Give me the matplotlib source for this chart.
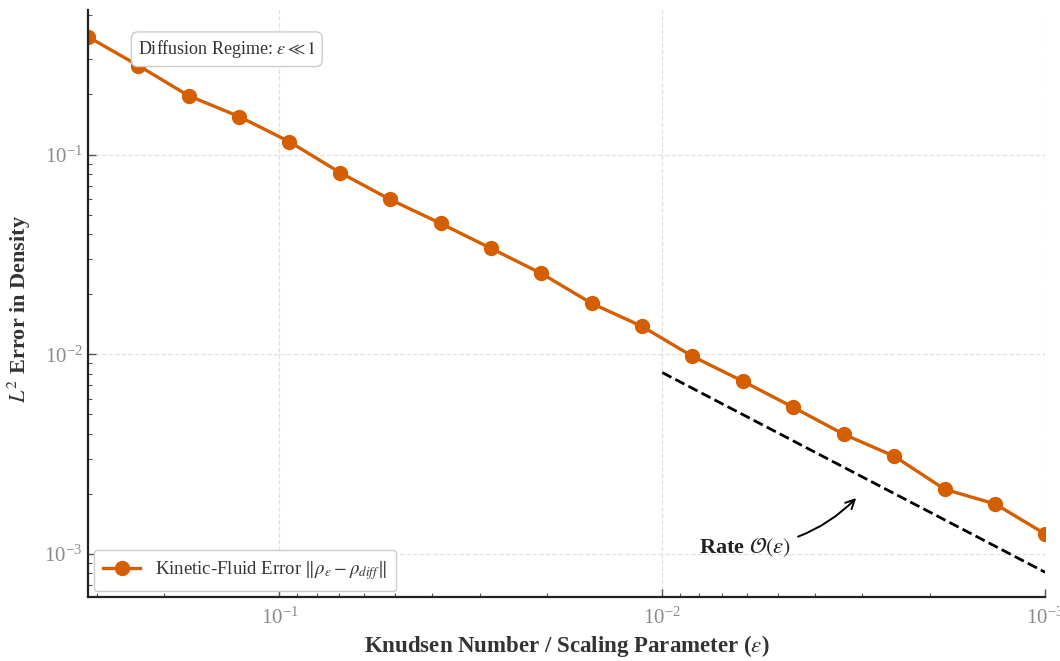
#!/usr/bin/env python3
"""
Asymptotic-preserving check: kinetic vs diffusion density error.
"""

import matplotlib

matplotlib.use("Agg")
import matplotlib.pyplot as plt
from matplotlib.ticker import LogLocator, NullFormatter

FIGSIZE = (10.6, 6.61)
SET_DPI = 100
ORANGE = "#D55E00"

# Knudsen numbers (log-spaced from ~0.32 down to 1e-3)
eps = [0.3162, 0.2336, 0.1726, 0.1274, 0.0942, 0.0695, 0.0514, 0.0379,
       0.0280, 0.0207, 0.0153, 0.0113, 0.00834, 0.00616, 0.00455,
       0.00336, 0.00248, 0.00183, 0.00135, 0.0010]
# L2 density error
err = [0.389, 0.279, 0.197, 0.155, 0.116, 0.0813, 0.0596, 0.0452,
       0.0339, 0.0254, 0.0180, 0.0138, 0.00977, 0.00733, 0.00543,
       0.00398, 0.00309, 0.00211, 0.00178, 0.00126]

# O(eps) reference slope
ref_eps = [0.01, 0.001]
ref_err = [0.0081, 0.00081]

plt.rcParams["font.family"] = ["Liberation Serif", "DejaVu Serif"]
plt.rcParams["mathtext.fontset"] = "stix"

fig = plt.figure(figsize=FIGSIZE, dpi=SET_DPI)
ax = fig.add_axes([0.083, 0.097, 0.903, 0.888])

ax.plot(eps, err, "-o", color=ORANGE, lw=2.4, ms=10,
        label=r"Kinetic-Fluid Error $\|\rho_\varepsilon - \rho_{diff}\|$")
ax.plot(ref_eps, ref_err, "--", color="black", lw=2)

ax.set_xscale("log")
ax.set_yscale("log")
# eps[0] > eps[-1], so the x axis runs from large to small
ax.set_xlim(eps[0], eps[-1])
ax.set_ylim(6.1e-4, 0.53)

ax.grid(True, which="major", ls="--", color="#e0e0e0", lw=0.9)
for side in ["top", "right"]:
    ax.spines[side].set_visible(False)
for side in ["left", "bottom"]:
    ax.spines[side].set_linewidth(1.6)
    ax.spines[side].set_color("#222222")

ax.xaxis.set_minor_locator(LogLocator(base=10, subs=range(2, 10), numticks=20))
ax.yaxis.set_minor_locator(LogLocator(base=10, subs=range(2, 10), numticks=20))
ax.xaxis.set_minor_formatter(NullFormatter())
ax.yaxis.set_minor_formatter(NullFormatter())
ax.tick_params(which="major", direction="in", length=6, width=1, labelsize=15,
               labelcolor="#8a8a8a", color="#555555", pad=8)
ax.tick_params(axis="y", which="major", pad=4)
ax.tick_params(which="minor", direction="in", length=3, width=0.8, color="#555555")

ax.set_xlabel(r"Knudsen Number / Scaling Parameter ($\varepsilon$)",
              fontsize=16.5, fontweight="bold", color="#333333")
ax.set_ylabel(r"$L^2$ Error in Density", fontsize=16, fontweight="bold",
              color="#333333")
ax.xaxis.set_label_coords(0.5, -0.062)
ax.yaxis.set_label_coords(-0.057, 0.49)

ax.text(0.052, 0.933, r"Diffusion Regime: $\varepsilon \ll 1$",
        transform=ax.transAxes, fontsize=13, color="#333333", va="center",
        bbox=dict(boxstyle="round,pad=0.35", fc="white", ec="#cccccc", lw=1))

ax.annotate(r"Rate $\mathcal{O}(\varepsilon)$", xy=(0.00308, 0.00195),
            xytext=(0.0080, 0.00108), fontsize=16, fontweight="bold",
            color="#222222", va="center",
            arrowprops=dict(arrowstyle="->", color="black", lw=1.4,
                            connectionstyle="arc3,rad=0.2",
                            shrinkA=3, shrinkB=2))

leg = ax.legend(loc="lower left", fontsize=13.5, frameon=True, fancybox=True,
                edgecolor="#cccccc", framealpha=1, borderpad=0.5,
                borderaxespad=0.3, handlelength=2.0)
for t in leg.get_texts():
    t.set_color("#333333")

fig.savefig("out.png", dpi=SET_DPI)
plt.close(fig)
